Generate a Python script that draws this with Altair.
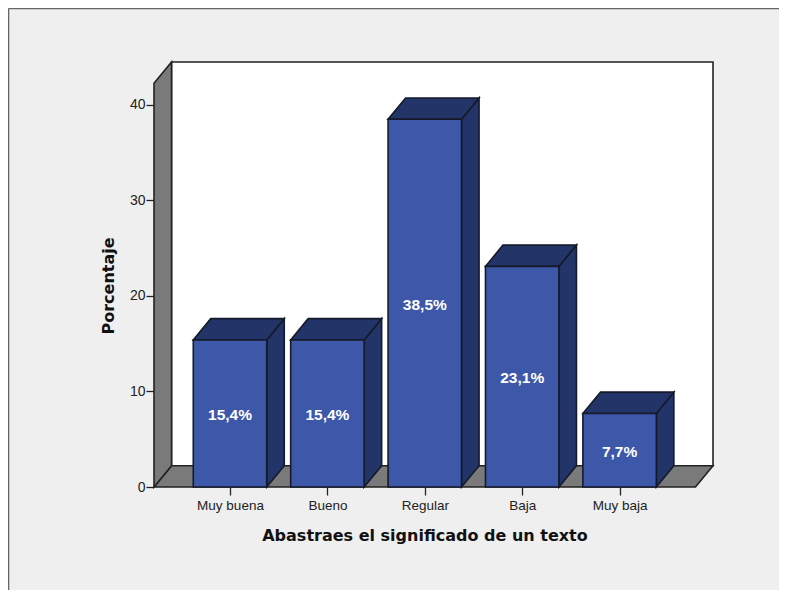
import altair as alt
import pandas as pd

categories = ["Muy buena", "Bueno", "Regular", "Baja", "Muy baja"]
values = [15.4, 15.4, 38.5, 23.1, 7.7]
labels = ["15,4%", "15,4%", "38,5%", "23,1%", "7,7%"]
y_ticks = [0, 10, 20, 30, 40]
positions = [1, 2, 3, 4, 5]

X_MIN, X_MAX = 0.2197, 5.959
Y_MAX = 44.5
DX, DY = 0.18, 2.23
HALF = 0.377
FRONT, DARK, GRAY, BG, INK = "#3d58a9", "#233468", "#7a7a7a", "#efefef", "#141a2a"

label_expr = "{" + ",".join(f"{p}:'{c}'" for p, c in zip(positions, categories)) + "}[datum.value]"

xs = alt.Scale(domain=[X_MIN, X_MAX], nice=False, zero=False)
ys = alt.Scale(domain=[0, Y_MAX], nice=False, zero=False)
x_axis = alt.Axis(
    values=positions, labelExpr=label_expr, domain=False, grid=False,
    tickSize=8, tickColor="#222222", tickWidth=1.3, labelFont="Liberation Sans", labelFontSize=13.5,
    labelColor="#222222", labelPadding=3, title="Abastraes el significado de un texto",
    titleFont="DejaVu Sans", titleFontSize=16, titleFontWeight="bold", titleColor="#111111",
    titleX=270.5, titleY=48, titleBaseline="middle", titleAlign="center")
y_axis = alt.Axis(
    values=y_ticks, domain=False, grid=False, tickSize=8, tickColor="#222222", tickWidth=1.3,
    labelFont="Liberation Sans", labelFontSize=14, labelColor="#222222", labelPadding=1,
    title="Porcentaje", titleFont="DejaVu Sans", titleFontSize=16, titleFontWeight="bold",
    titleColor="#111111", titleX=-46, titleY=223.5, titleBaseline="middle", titleAlign="center")
X = lambda f: alt.X(f, type="quantitative", scale=xs, axis=x_axis)
Y = lambda f: alt.Y(f, type="quantitative", scale=ys, axis=y_axis)

bars = pd.DataFrame({"pos": positions, "v": values, "label": labels})
bars["l"] = bars.pos - HALF
bars["r"] = bars.pos + HALF
bars["mid"] = bars.v / 2
bars["base"] = 0

side_rows, top_rows = [], []
for p, v in zip(positions, values):
    side_rows += [{"bar": p, "x": p + HALF, "y": 0, "y2": v},
                  {"bar": p, "x": p + HALF + DX, "y": DY, "y2": v + DY}]
    top_rows += [{"bar": p, "y": v, "x": p - HALF, "x2": p + HALF},
                 {"bar": p, "y": v + DY, "x": p - HALF + DX, "x2": p + HALF + DX}]
side = pd.DataFrame(side_rows)
top = pd.DataFrame(top_rows)

floor = pd.DataFrame([{"y": 0, "x": X_MIN, "x2": X_MAX - DX},
                      {"y": DY, "x": X_MIN + DX, "x2": X_MAX}])
lwall = pd.DataFrame([{"x": X_MIN, "y": 0, "y2": Y_MAX - DY},
                      {"x": X_MIN + DX, "y": DY, "y2": Y_MAX}])
wall = pd.DataFrame([{"x": X_MIN + DX, "x2": X_MAX, "y": DY, "y2": Y_MAX}])

SW = 1.6
wall_l = alt.Chart(wall).mark_rect(fill="white", stroke="#222222", strokeWidth=SW).encode(
    x=X("x"), x2="x2", y=Y("y"), y2="y2")
floor_l = alt.Chart(floor).mark_area(orient="horizontal", fill=GRAY, stroke="#222222", strokeWidth=SW).encode(
    y=Y("y"), x=X("x"), x2="x2")
lwall_l = alt.Chart(lwall).mark_area(orient="vertical", fill=GRAY, stroke="#222222", strokeWidth=SW).encode(
    x=X("x"), y=Y("y"), y2="y2")
side_l = alt.Chart(side).mark_area(orient="vertical", fill=DARK, stroke=INK, strokeWidth=SW).encode(
    x=X("x"), y=Y("y"), y2="y2", detail="bar:N")
top_l = alt.Chart(top).mark_area(orient="horizontal", fill=DARK, stroke=INK, strokeWidth=SW).encode(
    y=Y("y"), x=X("x"), x2="x2", detail="bar:N")
front_l = alt.Chart(bars).mark_rect(fill=FRONT, stroke=INK, strokeWidth=SW).encode(
    x=X("l"), x2="r", y=Y("v"), y2="base")
text_l = alt.Chart(bars).mark_text(font="Liberation Sans", fontSize=15.5, fontWeight="bold", color="white",
                                   baseline="middle", align="center", dy=1.5).encode(
    x=X("pos"), y=Y("mid"), text="label:N")

frame_v = alt.Chart(pd.DataFrame({"a": [0]})).mark_rule(color="#666666", strokeWidth=1.6).encode(
    x=alt.value(-145.5), y=alt.value(-53.5), y2=alt.value(528))
frame_h = alt.Chart(pd.DataFrame({"a": [0]})).mark_rule(color="#666666", strokeWidth=1.6).encode(
    y=alt.value(-53.5), x=alt.value(-145.5), x2=alt.value(625))

chart = alt.layer(wall_l, floor_l, lwall_l, side_l, top_l, front_l, text_l, frame_v, frame_h).properties(
    width=559, height=425, background=BG,
    padding={"left": 146, "top": 54, "right": 66, "bottom": 103},
    autosize=alt.AutoSizeParams(type="none"),
).configure_view(stroke=None)

chart.save("out.html", embed_options={"renderer": "svg", "actions": False})
